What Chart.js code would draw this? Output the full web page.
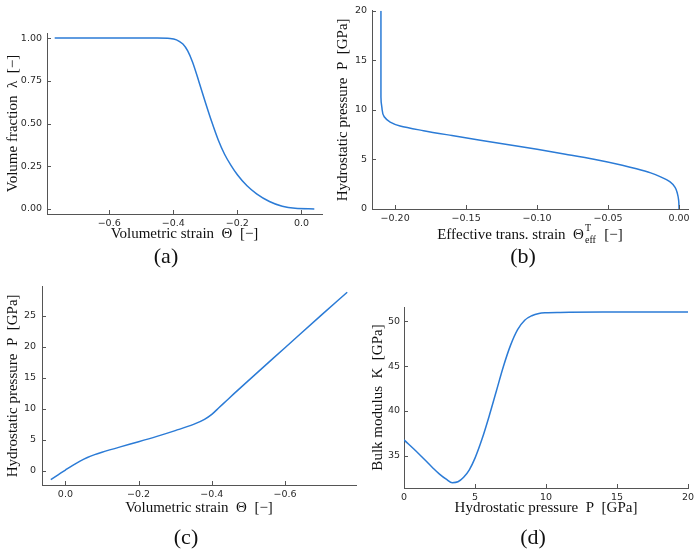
<!DOCTYPE html>
<html>
<head>
<meta charset="utf-8">
<script src="https://cdn.jsdelivr.net/npm/chart.js@4.4.0/dist/chart.umd.min.js"></script>
<style>
  body { margin: 0; background: #fff; }
  #wrap { position: relative; width: 700px; height: 555px; overflow: hidden; }
  canvas { position: absolute; }
  .cap { position: absolute; font: 22px "Liberation Serif", serif; color: #111; transform: translate(-50%, -50%); }
</style>
</head>
<body>
<div id="wrap">
  <canvas id="chartA" width="340" height="250" style="left:0;top:0"></canvas>
  <canvas id="chartB" width="375" height="250" style="left:325px;top:0"></canvas>
  <canvas id="chartC" width="370" height="250" style="left:0;top:275px"></canvas>
  <canvas id="chartD" width="345" height="250" style="left:355px;top:275px"></canvas>
  <div class="cap" style="left:166px;top:256px">(a)</div>
  <div class="cap" style="left:523px;top:256px">(b)</div>
  <div class="cap" style="left:186px;top:537px">(c)</div>
  <div class="cap" style="left:533px;top:537px">(d)</div>
</div>
<script>
// (a) volume fraction vs volumetric strain
const strainA = [-0.77, -0.45, -0.41, -0.39, -0.37, -0.355, -0.34, -0.32, -0.30, -0.28, -0.26, -0.24, -0.22, -0.20, -0.17, -0.14, -0.10, -0.06, -0.02, 0.04];
const lambdaA = [1.0, 1.0, 0.998, 0.990, 0.965, 0.925, 0.860, 0.745, 0.625, 0.510, 0.405, 0.320, 0.255, 0.200, 0.135, 0.088, 0.043, 0.015, 0.003, 0.0];

// (b) effective transformation strain vs hydrostatic pressure (ordered by pressure)
const pressureB = [0, 0.9, 1.58, 2.18, 2.74, 3.24, 3.64, 4.06, 4.42, 5.02, 5.53, 6.02, 6.48, 6.94, 7.41, 7.90, 8.37, 8.77, 9.3, 10.3, 11.3, 20];
const strainB = [0, -0.0003, -0.0012, -0.0028, -0.0063, -0.013, -0.02, -0.03, -0.04, -0.06, -0.08, -0.10, -0.12, -0.14, -0.16, -0.18, -0.1965, -0.2035, -0.2077, -0.2094, -0.21, -0.21];

// (c) hydrostatic pressure vs volumetric strain
const strainC = [0.04, 0.02, 0.0, -0.02, -0.04, -0.06, -0.08, -0.10, -0.15, -0.20, -0.25, -0.30, -0.35, -0.38, -0.40, -0.42, -0.44, -0.46, -0.5, -0.6, -0.7, -0.77];
const pressureC = [-1.44, -0.66, 0.12, 0.88, 1.56, 2.14, 2.6, 2.98, 3.85, 4.68, 5.55, 6.48, 7.48, 8.3, 9.1, 10.2, 11.3, 12.4, 14.55, 19.85, 25.15, 28.8];

// (d) bulk modulus vs hydrostatic pressure
const pressureD = [0, 1, 2, 2.5, 3.0, 3.4, 3.8, 4.2, 4.6, 5.0, 5.5, 6.0, 6.5, 7.0, 7.5, 8.0, 8.5, 9.0, 9.5, 10, 11, 14, 20];
const bulkD = [36.78, 35.30, 33.72, 32.98, 32.38, 32.02, 32.12, 32.62, 33.45, 34.75, 36.9, 39.45, 42.2, 44.95, 47.3, 49.05, 50.1, 50.6, 50.85, 50.93, 50.97, 51.0, 51.0];

// tick values
const ticksAx = [-0.6, -0.4, -0.2, 0.0];
const ticksAy = [0, 0.25, 0.5, 0.75, 1.0];
const ticksBx = [-0.20, -0.15, -0.10, -0.05, 0.00];
const ticksBy = [0, 5, 10, 15, 20];
const ticksCx = [0.0, -0.2, -0.4, -0.6];
const ticksCy = [0, 5, 10, 15, 20, 25];
const ticksDx = [0, 5, 10, 15, 20];
const ticksDy = [35, 40, 45, 50];

const BLUE = '#2b7bd6';
const AXIS = '#555555';
const TICK = '#2a2a2a';
const SANS = '"DejaVu Sans", sans-serif';
const SERIF = '"Liberation Serif", serif';

function fmt(v, dec) {
  return v.toFixed(dec).replace('-', '\u2212');
}

// Plots.jl style ticks: short marks pointing into the plot
const innerTicks = {
  id: 'innerTicks',
  afterDraw(chart) {
    const { ctx, chartArea: a, scales } = chart;
    ctx.save();
    ctx.strokeStyle = AXIS;
    ctx.lineWidth = 1;
    ctx.beginPath();
    scales.x.ticks.forEach(t => {
      const p = Math.round(scales.x.getPixelForValue(t.value)) + 0.5;
      ctx.moveTo(p, a.bottom);
      ctx.lineTo(p, a.bottom - 4);
    });
    scales.y.ticks.forEach(t => {
      const p = Math.round(scales.y.getPixelForValue(t.value)) + 0.5;
      ctx.moveTo(a.left, p);
      ctx.lineTo(a.left + 4, p);
    });
    ctx.stroke();
    ctx.restore();
  }
};

// x title of (b) needs a sub- and superscript
const effTitle = {
  id: 'effTitle',
  afterDraw(chart) {
    const { ctx, chartArea: a } = chart;
    const big = '15px ' + SERIF, small = '10px ' + SERIF;
    const head = 'Effective trans. strain  \u0398', tail = '  [\u2212]';
    ctx.save();
    ctx.fillStyle = '#111';
    ctx.textBaseline = 'alphabetic';
    ctx.font = big;
    const w1 = ctx.measureText(head).width, w3 = ctx.measureText(tail).width;
    ctx.font = small;
    const w2 = Math.max(ctx.measureText('eff').width, ctx.measureText('T').width) + 2;
    let x = (a.left + a.right) / 2 - (w1 + w2 + w3) / 2;
    const y = 239;
    ctx.font = big;
    ctx.fillText(head, x, y);
    x += w1;
    ctx.font = small;
    ctx.fillText('eff', x + 1, y + 4);
    ctx.fillText('T', x + 1, y - 8);
    ctx.font = big;
    ctx.fillText(tail, x + w2, y);
    ctx.restore();
  }
};

function axis(o) {
  const left = o.pos === 'left';
  return {
    type: 'linear',
    position: o.pos,
    min: o.min,
    max: o.max,
    reverse: !!o.reverse,
    grid: { display: false, drawTicks: false },
    border: { display: true, color: AXIS, width: 1 },
    ticks: {
      padding: o.pad,
      color: TICK,
      autoSkip: false,
      maxRotation: 0,
      font: { family: SANS, size: 9.5 },
      callback: v => fmt(v, o.dec)
    },
    title: {
      display: !!o.title,
      text: o.title,
      color: '#111',
      font: { family: SERIF, size: 15 },
      padding: left ? { top: o.tpad, bottom: 0 } : { top: 0, bottom: o.tpad }
    },
    afterBuildTicks: s => { s.ticks = o.ticks.map(v => ({ value: v })); },
    afterFit: s => { if (left) s.width = o.size; else s.height = o.size; }
  };
}

function plot(id, xs, ys, xAxis, yAxis, pad, extra, indexAxis) {
  return new Chart(document.getElementById(id), {
    type: 'line',
    data: {
      datasets: [{
        data: xs.map((x, i) => ({ x: x, y: ys[i] })),
        borderColor: BLUE,
        borderWidth: 1.5,
        pointRadius: 0,
        cubicInterpolationMode: 'monotone',
        fill: false
      }]
    },
    options: {
      indexAxis: indexAxis || 'x',
      responsive: false,
      animation: false,
      events: [],
      layout: { padding: pad },
      plugins: { legend: { display: false }, tooltip: { enabled: false } },
      scales: { x: xAxis, y: yAxis }
    },
    plugins: [innerTicks].concat(extra || [])
  });
}

plot('chartA', strainA, lambdaA,
  axis({ pos: 'bottom', min: -0.794, max: 0.064, ticks: ticksAx, dec: 1, pad: 4, size: 36, tpad: 7,
         title: 'Volumetric strain  \u0398  [\u2212]' }),
  axis({ pos: 'left', min: -0.03, max: 1.03, ticks: ticksAy, dec: 2, pad: 5, size: 47, tpad: 4,
         title: 'Volume fraction  \u03bb  [\u2212]' }),
  { left: 0, top: 33, right: 18, bottom: 0 });

plot('chartB', strainB, pressureB,
  axis({ pos: 'bottom', min: -0.2163, max: 0.0063, ticks: ticksBx, dec: 2, pad: 4, size: 41, tpad: 0, title: '' }),
  axis({ pos: 'left', min: 0, max: 20, ticks: ticksBy, dec: 0, pad: 5, size: 47, tpad: 9,
         title: 'Hydrostatic pressure  P  [GPa]' }),
  { left: 0, top: 10, right: 12, bottom: 0 }, [effTitle], 'y');

plot('chartC', strainC, pressureC,
  axis({ pos: 'bottom', min: -0.794, max: 0.064, reverse: true, ticks: ticksCx, dec: 1, pad: 4, size: 40, tpad: 8,
         title: 'Volumetric strain  \u0398  [\u2212]' }),
  axis({ pos: 'left', min: -2.3, max: 29.7, ticks: ticksCy, dec: 0, pad: 6, size: 42, tpad: 4,
         title: 'Hydrostatic pressure  P  [GPa]' }),
  { left: 0, top: 9, right: 14, bottom: 0 });

plot('chartD', pressureD, bulkD,
  axis({ pos: 'bottom', min: 0, max: 20, ticks: ticksDx, dec: 0, pad: 4, size: 37, tpad: 8,
         title: 'Hydrostatic pressure  P  [GPa]' }),
  axis({ pos: 'left', min: 31.43, max: 51.57, ticks: ticksDy, dec: 0, pad: 4, size: 49, tpad: 14,
         title: 'Bulk modulus  K  [GPa]' }),
  { left: 0, top: 32, right: 12, bottom: 0 });
</script>
</body>
</html>
